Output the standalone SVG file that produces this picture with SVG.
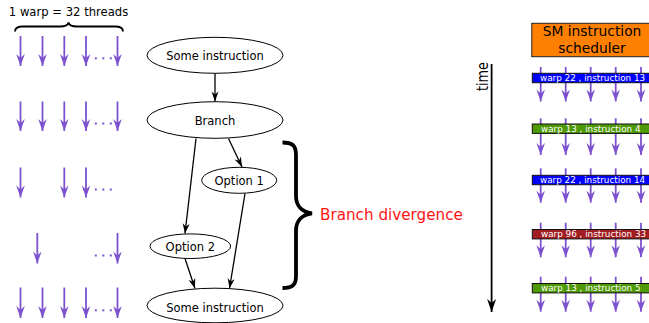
<svg xmlns="http://www.w3.org/2000/svg" width="649" height="323" viewBox="0 0 649 323">
  <style>
    text { font-family: "DejaVu Sans", "Liberation Sans", sans-serif; }
    .thr { stroke: #7d52cf; stroke-width: 1.8; fill: none; marker-end: url(#ph); }
    .dot { fill: #7d52cf; }
    .node ellipse { fill: #fff; stroke: #000; stroke-width: 1; }
    .node text { font-size: 11.5px; text-anchor: middle; fill: #000; }
    .edge { stroke: #000; stroke-width: 1.3; fill: none; marker-end: url(#bh); }
    .bar rect { stroke: #111; stroke-width: 1; }
    .bar text { font-size: 8.8px; fill: #fff; }
  </style>
  <defs>
    <!-- barbed heads, drawn in user units so every arrow shares one size -->
    <marker id="ph" markerUnits="userSpaceOnUse" viewBox="-13 -5 14 10" refX="0" refY="0" markerWidth="14" markerHeight="10" orient="auto">
      <path d="M0,0 L-12,-4.3 L-8,0 L-12,4.3 Z" fill="#7d52cf"/>
    </marker>
    <marker id="bh" markerUnits="userSpaceOnUse" viewBox="-11 -4 12 8" refX="0" refY="0" markerWidth="12" markerHeight="8" orient="auto">
      <path d="M0,0 L-10,-3.5 L-7,0 L-10,3.5 Z" fill="#000"/>
    </marker>
    <marker id="th" markerUnits="userSpaceOnUse" viewBox="-14 -5 15 10" refX="0" refY="0" markerWidth="15" markerHeight="10" orient="auto">
      <path d="M0,0 L-13,-4.5 L-9,0 L-13,4.5 Z" fill="#000"/>
    </marker>
  </defs>

  <!-- warp of threads, left column -->
  <g id="warp-label">
    <text x="68.5" y="16" font-size="11.6px" text-anchor="middle" fill="#000">1 warp = 32 threads</text>
    <path d="M15,31.5 C15,28 17,26.5 23,26.5 L60,26.5 C65,26.5 68,25 68.5,22.5 C69,25 72,26.5 77,26.5 L115,26.5 C121,26.5 123,28 123,31.5" fill="none" stroke="#000" stroke-width="1.8"/>
  </g>

  <g id="threads">
    <!-- row 1 -->
    <line class="thr" x1="20.5" y1="36" x2="20.5" y2="66"/>
    <line class="thr" x1="42.5" y1="36" x2="42.5" y2="66"/>
    <line class="thr" x1="64.3" y1="36" x2="64.3" y2="66"/>
    <line class="thr" x1="86" y1="36" x2="86" y2="66"/>
    <line class="thr" x1="117.5" y1="36" x2="117.5" y2="66"/>
    <rect class="dot" x="94.8" y="57.3" width="2" height="2"/>
    <rect class="dot" x="102.3" y="57.3" width="2" height="2"/>
    <rect class="dot" x="109.8" y="57.3" width="2" height="2"/>
    <!-- row 2 -->
    <line class="thr" x1="20.5" y1="101.5" x2="20.5" y2="131"/>
    <line class="thr" x1="42.5" y1="101.5" x2="42.5" y2="131"/>
    <line class="thr" x1="64.3" y1="101.5" x2="64.3" y2="131"/>
    <line class="thr" x1="86" y1="101.5" x2="86" y2="131"/>
    <line class="thr" x1="117.5" y1="101.5" x2="117.5" y2="131"/>
    <rect class="dot" x="94.8" y="122.5" width="2" height="2"/>
    <rect class="dot" x="102.3" y="122.5" width="2" height="2"/>
    <rect class="dot" x="109.8" y="122.5" width="2" height="2"/>
    <!-- row 3 -->
    <line class="thr" x1="20.5" y1="167.5" x2="20.5" y2="197.5"/>
    <line class="thr" x1="64.3" y1="167.5" x2="64.3" y2="197.5"/>
    <line class="thr" x1="86" y1="167.5" x2="86" y2="197.5"/>
    <rect class="dot" x="94.8" y="188.5" width="2" height="2"/>
    <rect class="dot" x="102.3" y="188.5" width="2" height="2"/>
    <rect class="dot" x="109.8" y="188.5" width="2" height="2"/>
    <!-- row 4 -->
    <line class="thr" x1="37.3" y1="233" x2="37.3" y2="263.5"/>
    <line class="thr" x1="117.5" y1="233" x2="117.5" y2="263.5"/>
    <rect class="dot" x="94.8" y="254.5" width="2" height="2"/>
    <rect class="dot" x="102.3" y="254.5" width="2" height="2"/>
    <rect class="dot" x="109.8" y="254.5" width="2" height="2"/>
    <!-- row 5 -->
    <line class="thr" x1="20.5" y1="287.5" x2="20.5" y2="318"/>
    <line class="thr" x1="42.5" y1="287.5" x2="42.5" y2="318"/>
    <line class="thr" x1="64.3" y1="287.5" x2="64.3" y2="318"/>
    <line class="thr" x1="86" y1="287.5" x2="86" y2="318"/>
    <line class="thr" x1="117.5" y1="287.5" x2="117.5" y2="318"/>
    <rect class="dot" x="94.8" y="309.3" width="2" height="2"/>
    <rect class="dot" x="102.3" y="309.3" width="2" height="2"/>
    <rect class="dot" x="109.8" y="309.3" width="2" height="2"/>
  </g>

  <!-- control flow graph -->
  <g id="connectors">
    <line class="edge" x1="215" y1="73.5" x2="215" y2="101.5"/>
    <line class="edge" x1="228.5" y1="138.5" x2="242" y2="167"/>
    <line class="edge" x1="196" y1="138.5" x2="185" y2="233.5"/>
    <line class="edge" x1="245" y1="193.5" x2="229.5" y2="288.5"/>
    <line class="edge" x1="185" y1="258.5" x2="195" y2="288.5"/>
  </g>

  <g id="n-some1" class="node">
    <ellipse cx="215" cy="55.3" rx="68" ry="18"/>
    <text x="215" y="59.5">Some instruction</text>
  </g>
  <g id="n-branch" class="node">
    <ellipse cx="215" cy="120" rx="68" ry="18.3"/>
    <text x="215" y="124.5">Branch</text>
  </g>
  <g id="n-opt1" class="node">
    <ellipse cx="239.2" cy="180.3" rx="37.5" ry="13"/>
    <text x="239.2" y="184.6">Option 1</text>
  </g>
  <g id="n-opt2" class="node">
    <ellipse cx="190.3" cy="246.2" rx="40.3" ry="12.3"/>
    <text x="190.3" y="250.5">Option 2</text>
  </g>
  <g id="n-some2" class="node">
    <ellipse cx="215" cy="305.5" rx="68" ry="17.3"/>
    <text x="215" y="311.5">Some instruction</text>
  </g>

  <!-- divergence brace -->
  <g id="divergence">
    <path d="M282.5,142.5 C292,142.5 296,145 296,155 L296,196 C296,206 302,212 312,213.3 C302,214.6 296,220.6 296,230.6 L296,276 C296,285.5 292,288 282.5,288" fill="none" stroke="#000" stroke-width="3.8"/>
    <text x="320" y="219.8" font-size="15.2px" fill="#ff1414">Branch divergence</text>
  </g>

  <!-- scheduler timeline -->
  <g id="time-axis">
    <line x1="491.6" y1="64" x2="491.6" y2="312" stroke="#000" stroke-width="1.8" marker-end="url(#th)"/>
    <text transform="translate(487.5,76.5) rotate(-90) scale(0.8,1)" font-size="16px" text-anchor="middle" fill="#000">time</text>
  </g>

  <g id="scheduler">
    <rect x="531.8" y="23.3" width="130" height="33.4" fill="#ff8000" stroke="#222" stroke-width="1"/>
    <text x="592" y="36.3" font-size="13.8px" text-anchor="middle" fill="#000">SM instruction</text>
    <text x="592" y="52.5" font-size="13.8px" text-anchor="middle" fill="#000">scheduler</text>
  </g>

  <g id="issue-threads">
    <!-- row 1 -->
    <line class="thr" x1="540.7" y1="67" x2="540.7" y2="101.5"/>
    <line class="thr" x1="565.7" y1="67" x2="565.7" y2="101.5"/>
    <line class="thr" x1="590.7" y1="67" x2="590.7" y2="101.5"/>
    <line class="thr" x1="615.7" y1="67" x2="615.7" y2="101.5"/>
    <line class="thr" x1="641" y1="67" x2="641" y2="101.5"/>
    <!-- row 2 -->
    <line class="thr" x1="540.7" y1="118.3" x2="540.7" y2="155"/>
    <line class="thr" x1="565.7" y1="118.3" x2="565.7" y2="155"/>
    <line class="thr" x1="590.7" y1="118.3" x2="590.7" y2="155"/>
    <line class="thr" x1="615.7" y1="118.3" x2="615.7" y2="155"/>
    <line class="thr" x1="641" y1="118.3" x2="641" y2="155"/>
    <!-- row 3 -->
    <line class="thr" x1="540.7" y1="168.3" x2="540.7" y2="202.7"/>
    <line class="thr" x1="565.7" y1="168.3" x2="565.7" y2="202.7"/>
    <line class="thr" x1="590.7" y1="168.3" x2="590.7" y2="202.7"/>
    <line class="thr" x1="615.7" y1="168.3" x2="615.7" y2="202.7"/>
    <line class="thr" x1="641" y1="168.3" x2="641" y2="202.7"/>
    <!-- row 4 -->
    <line class="thr" x1="540.7" y1="222.7" x2="540.7" y2="257.3"/>
    <line class="thr" x1="565.7" y1="222.7" x2="565.7" y2="257.3"/>
    <line class="thr" x1="590.7" y1="222.7" x2="590.7" y2="257.3"/>
    <line class="thr" x1="615.7" y1="222.7" x2="615.7" y2="257.3"/>
    <line class="thr" x1="641" y1="222.7" x2="641" y2="257.3"/>
    <!-- row 5 -->
    <line class="thr" x1="540.7" y1="276.7" x2="540.7" y2="311.7"/>
    <line class="thr" x1="565.7" y1="276.7" x2="565.7" y2="311.7"/>
    <line class="thr" x1="590.7" y1="276.7" x2="590.7" y2="311.7"/>
    <line class="thr" x1="615.7" y1="276.7" x2="615.7" y2="311.7"/>
    <line class="thr" x1="641" y1="276.7" x2="641" y2="311.7"/>
  </g>

  <g id="slot-1" class="bar">
    <rect x="532.3" y="73.3" width="130" height="9.4" fill="#0000ff"/>
    <text x="540" y="81.2">warp 22 , instruction 13</text>
  </g>
  <g id="slot-2" class="bar">
    <rect x="532.3" y="124" width="130" height="9.4" fill="#4e9a06"/>
    <text x="541" y="131.9">warp 13 , instruction 4</text>
  </g>
  <g id="slot-3" class="bar">
    <rect x="532.3" y="175.3" width="130" height="9.4" fill="#0000ff"/>
    <text x="540" y="183.2">warp 22 , instruction 14</text>
  </g>
  <g id="slot-4" class="bar">
    <rect x="532.3" y="229.5" width="130" height="9.4" fill="#a11d21"/>
    <text x="541" y="237.4">warp 96 , instruction 33</text>
  </g>
  <g id="slot-5" class="bar">
    <rect x="532.3" y="283.5" width="130" height="9.4" fill="#4e9a06"/>
    <text x="541" y="291.4">warp 13 , instruction 5</text>
  </g>
</svg>
